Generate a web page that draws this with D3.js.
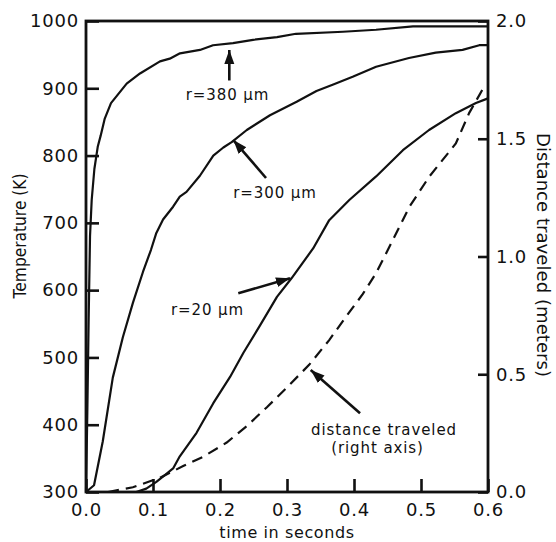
<!DOCTYPE html>
<html>
<head>
<meta charset="utf-8">
<script src="https://cdn.jsdelivr.net/npm/d3@7"></script>
<style>
  body { margin: 0; background: #fff; }
  svg { display: block; }
  text { font-family: "DejaVu Sans", Verdana, sans-serif; fill: #111; }
</style>
</head>
<body>
<svg id="chart" width="556" height="542"></svg>
<script>
// Axis ticks
const timeTicks = [0, 0.1, 0.2, 0.3, 0.4, 0.5, 0.6];
const tempTicks = [300, 400, 500, 600, 700, 800, 900, 1000];
const distTicks = [0, 0.5, 1.0, 1.5, 2.0];

// Temperature (K) vs time (s) for three particle radii
const tempR380 = [
  [0, 300], [0.002, 420], [0.004, 560], [0.006, 680], [0.0085, 734],
  [0.0125, 780], [0.0175, 813], [0.022, 830], [0.028, 855], [0.0373, 878],
  [0.0607, 907], [0.0806, 922], [0.1104, 940], [0.125, 944], [0.1403, 952],
  [0.1701, 957], [0.1896, 964], [0.2194, 967], [0.2493, 972], [0.2851, 976],
  [0.3134, 981], [0.3836, 984], [0.4328, 987], [0.488, 992], [0.6, 992]
];
const tempR300 = [
  [0, 300], [0.012, 310], [0.025, 375], [0.04, 470], [0.055, 530],
  [0.07, 581], [0.085, 627], [0.097, 660], [0.105, 685], [0.115, 705],
  [0.13, 724], [0.14, 739], [0.15, 746], [0.17, 770], [0.19, 800],
  [0.205, 812], [0.2174, 820], [0.24, 838], [0.2746, 860], [0.3144, 880],
  [0.344, 896], [0.37, 906], [0.398, 917], [0.433, 932], [0.482, 945],
  [0.522, 953], [0.562, 957], [0.587, 964], [0.6, 964]
];
const tempR20 = [
  [0.075, 300], [0.09, 305], [0.105, 315], [0.12, 327], [0.13, 335],
  [0.14, 353], [0.165, 388], [0.19, 432], [0.215, 471], [0.235, 507],
  [0.26, 548], [0.285, 590], [0.307, 618], [0.339, 662], [0.363, 704],
  [0.393, 734], [0.433, 769], [0.473, 808], [0.512, 838], [0.552, 863],
  [0.582, 878], [0.6, 885]
];

// Distance traveled (m) vs time (s), read on the right axis
const distance = [
  [0.033, 0], [0.05, 0.01], [0.07, 0.02], [0.11, 0.06], [0.145, 0.11],
  [0.175, 0.15], [0.21, 0.21], [0.24, 0.28], [0.27, 0.36], [0.2985, 0.44],
  [0.333, 0.54], [0.363, 0.645], [0.388, 0.744], [0.413, 0.84], [0.433, 0.93],
  [0.458, 1.07], [0.4825, 1.21], [0.5125, 1.34], [0.552, 1.48], [0.572, 1.61],
  [0.592, 1.71]
];

// Callout text, anchored in data units ("temp" = left axis, "dist" = right axis)
const labelText = ["r=380 µm", "r=300 µm", "r=20 µm", "distance traveled", "(right axis)"];
const labelAt = [
  { t: 0.2112, v: 890, axis: "temp" },
  { t: 0.2821, v: 744.4, axis: "temp" },
  { t: 0.1813, v: 571.5, axis: "temp" },
  { t: 0.4448, v: 0.263, axis: "dist" },
  { t: 0.4351, v: 0.187, axis: "dist" }
];
// Callout arrows: tail -> head
const arrowFrom = [
  { t: 0.2139, v: 911.6, axis: "temp" },
  { t: 0.2687, v: 766.7, axis: "temp" },
  { t: 0.2273, v: 595.3, axis: "temp" },
  { t: 0.409, v: 0.334, axis: "dist" }
];
const arrowTo = [
  { t: 0.2139, v: 956.9, axis: "temp" },
  { t: 0.2199, v: 823.1, axis: "temp" },
  { t: 0.3045, v: 617.6, axis: "temp" },
  { t: 0.3354, v: 0.518, axis: "dist" }
];

const W = 556, H = 542;
const plot = { left: 86, top: 21, right: 488, bottom: 492 };

const svg = d3.select("#chart");

const x = d3.scaleLinear().domain([0, 0.6]).range([plot.left, plot.right]);
const yT = d3.scaleLinear().domain([300, 1000]).range([plot.bottom, plot.top]);
const yD = d3.scaleLinear().domain([0, 2]).range([plot.bottom, plot.top]);
const yOf = p => (p.axis === "dist" ? yD(p.v) : yT(p.v));

// Arrowhead
svg.append("defs").append("marker")
  .attr("id", "head")
  .attr("markerUnits", "userSpaceOnUse")
  .attr("markerWidth", 16).attr("markerHeight", 12)
  .attr("viewBox", "0 -6 16 12")
  .attr("refX", 14).attr("refY", 0)
  .attr("orient", "auto")
  .append("path")
  .attr("d", "M0,-5L14,0L0,5Z")
  .attr("fill", "#111");

// Axes with inward ticks
const styleAxis = g => {
  g.select(".domain").remove();
  g.selectAll(".tick line").attr("stroke", "#111").attr("stroke-width", 2.6);
  g.selectAll(".tick text")
    .style("font-family", '"DejaVu Sans", Verdana, sans-serif')
    .style("font-size", "18px")
    .style("letter-spacing", "0.8px")
    .attr("fill", "#111");
};

svg.append("g")
  .attr("transform", `translate(${plot.left},0)`)
  .call(d3.axisLeft(yT).tickValues(tempTicks).tickSizeInner(-13).tickSizeOuter(0)
    .tickPadding(7).tickFormat(d3.format("d")))
  .call(styleAxis);

svg.append("g")
  .attr("transform", `translate(0,${plot.bottom})`)
  .call(d3.axisBottom(x).tickValues(timeTicks).tickSizeInner(-13).tickSizeOuter(0)
    .tickPadding(11).tickFormat(d3.format(".1f")))
  .call(styleAxis);

svg.append("g")
  .attr("transform", `translate(${plot.right},0)`)
  .call(d3.axisRight(yD).tickValues(distTicks).tickSizeInner(-10).tickSizeOuter(0)
    .tickPadding(8).tickFormat(d3.format(".1f")))
  .call(styleAxis);

// Frame
svg.append("rect")
  .attr("x", plot.left).attr("y", plot.top)
  .attr("width", plot.right - plot.left).attr("height", plot.bottom - plot.top)
  .attr("fill", "none").attr("stroke", "#111").attr("stroke-width", 2.8);

// Curves
const lineT = d3.line().x(d => x(d[0])).y(d => yT(d[1]));
const lineD = d3.line().x(d => x(d[0])).y(d => yD(d[1]));

[tempR380, tempR300, tempR20].forEach(series => {
  svg.append("path")
    .datum(series)
    .attr("d", lineT)
    .attr("fill", "none")
    .attr("stroke", "#111")
    .attr("stroke-width", 2.2)
    .attr("stroke-linejoin", "round");
});

svg.append("path")
  .datum(distance)
  .attr("d", lineD)
  .attr("fill", "none")
  .attr("stroke", "#111")
  .attr("stroke-width", 2.2)
  .attr("stroke-dasharray", "11,7");

// Callout arrows
svg.selectAll(".callout")
  .data(arrowFrom.map((f, i) => [f, arrowTo[i]]))
  .join("line")
  .attr("class", "callout")
  .attr("x1", d => x(d[0].t)).attr("y1", d => yOf(d[0]))
  .attr("x2", d => x(d[1].t)).attr("y2", d => yOf(d[1]))
  .attr("stroke", "#111")
  .attr("stroke-width", 2.6)
  .attr("marker-end", "url(#head)");

// Callout labels
svg.selectAll(".label")
  .data(labelAt)
  .join("text")
  .attr("class", "label")
  .attr("x", d => x(d.t))
  .attr("y", d => yOf(d))
  .attr("dy", "0.36em")
  .attr("text-anchor", "middle")
  .style("font-size", "15px")
  .style("letter-spacing", "0.9px")
  .text((d, i) => labelText[i]);

// Axis titles
svg.append("text")
  .attr("x", (plot.left + plot.right) / 2)
  .attr("y", 538)
  .attr("text-anchor", "middle")
  .style("font-size", "16px")
  .style("letter-spacing", "0.6px")
  .text("time in seconds");

svg.append("text")
  .attr("transform", "translate(26,236) rotate(-90)")
  .attr("text-anchor", "middle")
  .attr("textLength", 125)
  .attr("lengthAdjust", "spacingAndGlyphs")
  .style("font-size", "18px")
  .text("Temperature (K)");

svg.append("text")
  .attr("transform", "translate(537,255) rotate(90)")
  .attr("text-anchor", "middle")
  .attr("textLength", 244)
  .attr("lengthAdjust", "spacingAndGlyphs")
  .style("font-size", "18px")
  .text("Distance traveled (meters)");
</script>
</body>
</html>
